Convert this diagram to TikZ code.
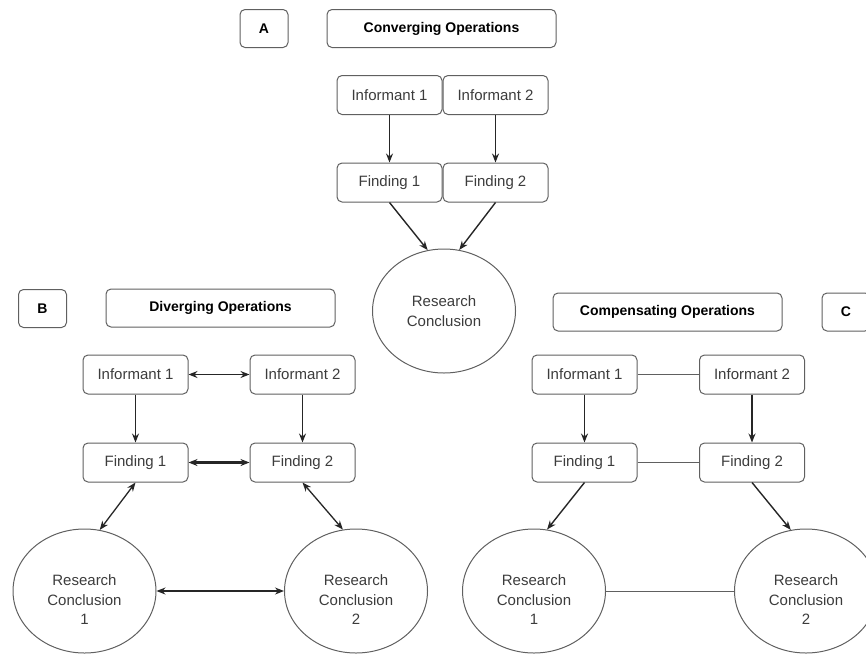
\documentclass[tikz,border=0pt]{standalone}
\usepackage{fontspec}
\setmainfont{Liberation Sans}
\usetikzlibrary{arrows.meta,shapes.geometric}
\definecolor{edge}{HTML}{606060}
\definecolor{ink}{HTML}{3C3C3C}
\tikzset{
  box/.style={draw=edge, line width=1pt, rounded corners=5pt,
    minimum width=105pt, minimum height=39pt, inner sep=0pt,
    text=ink, font=\fontsize{15}{18}\selectfont},
  tag/.style={box, minimum width=48pt, minimum height=38pt, text=black,
    font=\bfseries\fontsize{14}{17}\selectfont},
  title/.style={tag, minimum width=229pt},
  concl/.style={draw=edge, line width=1pt, ellipse, minimum width=143pt,
    minimum height=124pt, inner sep=0pt},
  concltext/.style={align=center, text=ink, inner sep=0pt,
    font=\fontsize{15}{19.5}\selectfont},
  arr/.style={-{Stealth[length=9pt,width=7pt]}, line width=1.4pt, draw=black!85},
  darr/.style={{Stealth[length=9pt,width=7pt]}-{Stealth[length=9pt,width=7pt]},
    line width=1.3pt, draw=black!85},
  link/.style={draw=edge, line width=1pt}
}
\begin{document}
\begin{tikzpicture}[x=1pt,y=-1pt]
\useasboundingbox (0,0) rectangle (866,653);
\clip (0,0) rectangle (866,653);

% --- A: converging operations
\node[tag]   (labA)   at (264,28.5)  {A};
\node[title] (titA)   at (441.5,28.5) {Converging Operations};
\node[box]   (infA1)  at (389.5,95)  {Informant 1};
\node[box]   (infA2)  at (495.5,95)  {Informant 2};
\node[box]   (finA1)  at (389.5,182.5) {Finding 1};
\node[box]   (finA2)  at (495.5,182.5) {Finding 2};
\node[concl] (concA)  at (444,311)   {};
\node[concltext] (concAt) at (concA.center) {Research\\Conclusion};
\draw[arr] (infA1) -- (finA1);
\draw[arr] (infA2) -- (finA2);
\draw[arr] (finA1.south) -- (concA.105);
\draw[arr] (finA2.south) -- (concA.76);

% --- B: diverging operations
\node[tag]   (labB)   at (42.5,308.5) {B};
\node[title] (titB)   at (220.5,308)  {Diverging Operations};
\node[box]   (infB1)  at (135.5,374.5) {Informant 1};
\node[box]   (infB2)  at (302.5,374.5) {Informant 2};
\node[box]   (finB1)  at (135.5,462.5) {Finding 1};
\node[box]   (finB2)  at (302.5,462.5) {Finding 2};
\node[concl] (concB1) at (84.5,591)  {};
\node[concl] (concB2) at (356,591)   {};
\node[concltext] (concB1t) at ([yshift=-9pt]concB1.center) {Research\\Conclusion\\1};
\node[concltext] (concB2t) at ([yshift=-9pt]concB2.center) {Research\\Conclusion\\2};
\draw[darr] (infB1) -- (infB2);
\draw[arr] (infB1) -- (finB1);
\draw[arr] (infB2) -- (finB2);
\draw[darr, line width=2.2pt] (finB1) -- (finB2);
\draw[darr] (finB1.south) -- (concB1.76);
\draw[darr] (finB2.south) -- (concB2.102);
\draw[darr] (concB1) -- (concB2);

% --- C: compensating operations
\node[title] (titC)   at (667.5,312)  {Compensating Operations};
\node[tag]   (labC)   at (846,312)    {C};
\node[box]   (infC1)  at (584.5,374.5) {Informant 1};
\node[box]   (infC2)  at (752,374.5)   {Informant 2};
\node[box]   (finC1)  at (584.5,462.5) {Finding 1};
\node[box]   (finC2)  at (752,462.5)   {Finding 2};
\node[concl] (concC1) at (534,591)   {};
\node[concl] (concC2) at (806,591)   {};
\node[concltext] (concC1t) at ([yshift=-9pt]concC1.center) {Research\\Conclusion\\1};
\node[concltext] (concC2t) at ([yshift=-9pt]concC2.center) {Research\\Conclusion\\2};
\draw[link] (infC1) -- (infC2);
\draw[arr] (infC1) -- (finC1);
\draw[arr] (infC2) -- (finC2);
\draw[link] (finC1) -- (finC2);
\draw[arr] (finC1.south) -- (concC1.78);
\draw[arr] (finC2.south) -- (concC2.104);
\draw[link] (concC1) -- (concC2);
\end{tikzpicture}
\end{document}
